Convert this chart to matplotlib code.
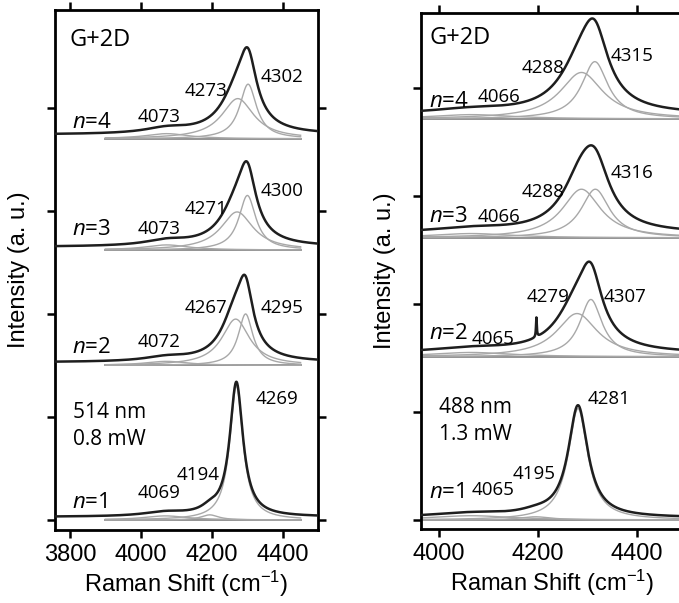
import numpy as np
import matplotlib
matplotlib.use('Agg')
import matplotlib.pyplot as plt

plt.rcParams['font.family'] = ['Liberation Sans', 'DejaVu Sans']
plt.rcParams['mathtext.fontset'] = 'custom'
plt.rcParams['mathtext.rm'] = 'Liberation Sans'
plt.rcParams['mathtext.it'] = 'Open Sans:italic'

# ---------------- Left panel: 514 nm, 0.8 mW ----------------
left_layers = ['1', '2', '3', '4']
left_offsets = [0.0, 1.50, 2.62, 3.70]
left_data_shift = [0.03, 0.03, 0.03, 0.04]
left_centers = [[4069, 4194, 4269], [4072, 4267, 4295], [4073, 4271, 4300], [4073, 4273, 4302]]
left_heights = [[0.04, 0.05, 1.30], [0.04, 0.45, 0.50], [0.05, 0.37, 0.53], [0.05, 0.39, 0.53]]
left_widths = [[150, 60, 45], [150, 95, 50], [150, 110, 58], [150, 110, 58]]
left_fit_range = (3900, 4450)
left_data_range = (3760, 4497)

# ---------------- Right panel: 488 nm, 1.3 mW ----------------
right_layers = ['1', '2', '3', '4']
right_offsets = [0.0, 1.51, 2.61, 3.71]
right_data_shift = [0.02, 0.03, 0.04, 0.04]
right_centers = [[4065, 4195, 4281], [4065, 4279, 4307], [4066, 4288, 4316], [4066, 4288, 4315]]
right_heights = [[0.04, 0.03, 1.03], [0.04, 0.40, 0.53], [0.04, 0.45, 0.45], [0.04, 0.43, 0.53]]
right_widths = [[200, 80, 48], [200, 100, 55], [200, 95, 70], [200, 105, 65]]
right_spike_layer = 1
right_spike = (4197, 0.18, 2)
right_fit_range = (3966, 4495)
right_data_range = (3966, 4495)


def lor(x, c, h, w):
    return h / (1.0 + ((x - c) / (w / 2.0)) ** 2)


fig = plt.figure(figsize=(6.79, 6.03), dpi=100)
axL = fig.add_axes([55 / 679, 1 - 530 / 603, 263 / 679, 520 / 603])
axR = fig.add_axes([421 / 679, 1 - 529 / 603, 262 / 679, 516 / 603])

comp_color = '#a8a8a8'
base_color = '#8a8a8a'
data_color = '#1e1e1e'


def draw_panel(ax, offsets, shifts, centers, heights, widths, fit_range, data_range, spike_layer=None, spike=None):
    xf = np.arange(fit_range[0], fit_range[1] + 1, 1.0)
    xd = np.arange(data_range[0], data_range[1] + 1, 0.5)
    for i, off in enumerate(offsets):
        ax.plot(xf, np.full_like(xf, off), color=base_color, lw=1.3, zorder=2)
        for c, h, w in zip(centers[i], heights[i], widths[i]):
            ax.plot(xf, off + lor(xf, c, h, w), color=comp_color, lw=1.0, zorder=2)
        yd = np.full_like(xd, off + shifts[i])
        for c, h, w in zip(centers[i], heights[i], widths[i]):
            yd = yd + lor(xd, c, h, w)
        if spike_layer is not None and i == spike_layer:
            yd = yd + lor(xd, spike[0], spike[1], spike[2])
        ax.plot(xd, yd, color=data_color, lw=1.8, zorder=3)


draw_panel(axL, left_offsets, left_data_shift, left_centers, left_heights, left_widths,
           left_fit_range, left_data_range)
draw_panel(axR, right_offsets, right_data_shift, right_centers, right_heights, right_widths,
           right_fit_range, right_data_range, right_spike_layer, right_spike)

axL.set_xlim(3758, 4499)
axL.set_ylim(-0.097, 4.95)
axR.set_xlim(3964, 4493)
axR.set_ylim(-0.083, 4.69)

axL.set_xticks([3800, 4000, 4200, 4400])
axR.set_xticks([4000, 4200, 4400])
for ax in (axL, axR):
    ax.set_yticks([0, 1, 2, 3, 4])
    ax.set_yticklabels([])
    for s in ax.spines.values():
        s.set_linewidth(2.0)
    ax.tick_params(axis='both', direction='out', length=6, width=1.8, labelsize=17, pad=4)
    ax.set_xlabel('Raman Shift (cm$^{\\mathregular{-1}}$)', fontsize=17, labelpad=2)
    ax.set_ylabel('Intensity (a. u.)', fontsize=17, labelpad=8)
axL.tick_params(axis='x', top=True)
axL.tick_params(axis='y', right=True)
axR.tick_params(axis='x', top=True)
axR.spines['right'].set_visible(False)

afont = ['Open Sans', 'DejaVu Sans']

# peak labels (text, x, y)
left_peak_text = ['4302', '4273', '4073', '4300', '4271', '4073', '4295', '4267', '4072', '4269', '4194', '4069']
left_peak_x = [4336, 4124, 3992, 4336, 4124, 3992, 4336, 4124, 3992, 4322, 4102, 3992]
left_peak_y = [4.30, 4.16, 3.91, 3.19, 3.02, 2.82, 2.06, 2.06, 1.73, 1.17, 0.44, 0.26]
left_n_y = [0.17, 1.67, 2.82, 3.86]
left_laser = ['514 nm', '0.8 mW']
left_laser_y = [1.04, 0.78]

right_peak_text = ['4315', '4288', '4066', '4316', '4288', '4066', '4307', '4279', '4065', '4281', '4195', '4065']
right_peak_x = [4346, 4168, 4079, 4346, 4168, 4079, 4332, 4178, 4067, 4301, 4148, 4067]
right_peak_y = [4.29, 4.18, 3.91, 3.21, 3.03, 2.80, 2.06, 2.06, 1.67, 1.12, 0.43, 0.28]
right_n_y = [0.25, 1.73, 2.81, 3.87]
right_laser = ['488 nm', '1.3 mW']
right_laser_y = [1.04, 0.79]


def annotate(ax, ptxt, px, py, layers, ny, nx, laser, laser_y, lx, gx, gy):
    for t, x, y in zip(ptxt, px, py):
        ax.text(x, y, t, fontsize=13.5, family=afont, ha='left', va='center', zorder=4)
    for n, y in zip(layers, ny):
        ax.text(nx, y, '$\\mathit{n}$=' + n, fontsize=16, family=afont, ha='left', va='center', zorder=4)
    for t, y in zip(laser, laser_y):
        ax.text(lx, y, t, fontsize=15, family=afont, ha='left', va='center', zorder=4)
    ax.text(gx, gy, 'G+2D', fontsize=17, family=afont, ha='left', va='center', zorder=4)


annotate(axL, left_peak_text, left_peak_x, left_peak_y, left_layers, left_n_y, 3806,
         left_laser, left_laser_y, 3808, 3800, 4.66)
annotate(axR, right_peak_text, right_peak_x, right_peak_y, right_layers, right_n_y, 3980,
         right_laser, right_laser_y, 4000, 3982, 4.46)

fig.savefig('out.png', dpi=100)
